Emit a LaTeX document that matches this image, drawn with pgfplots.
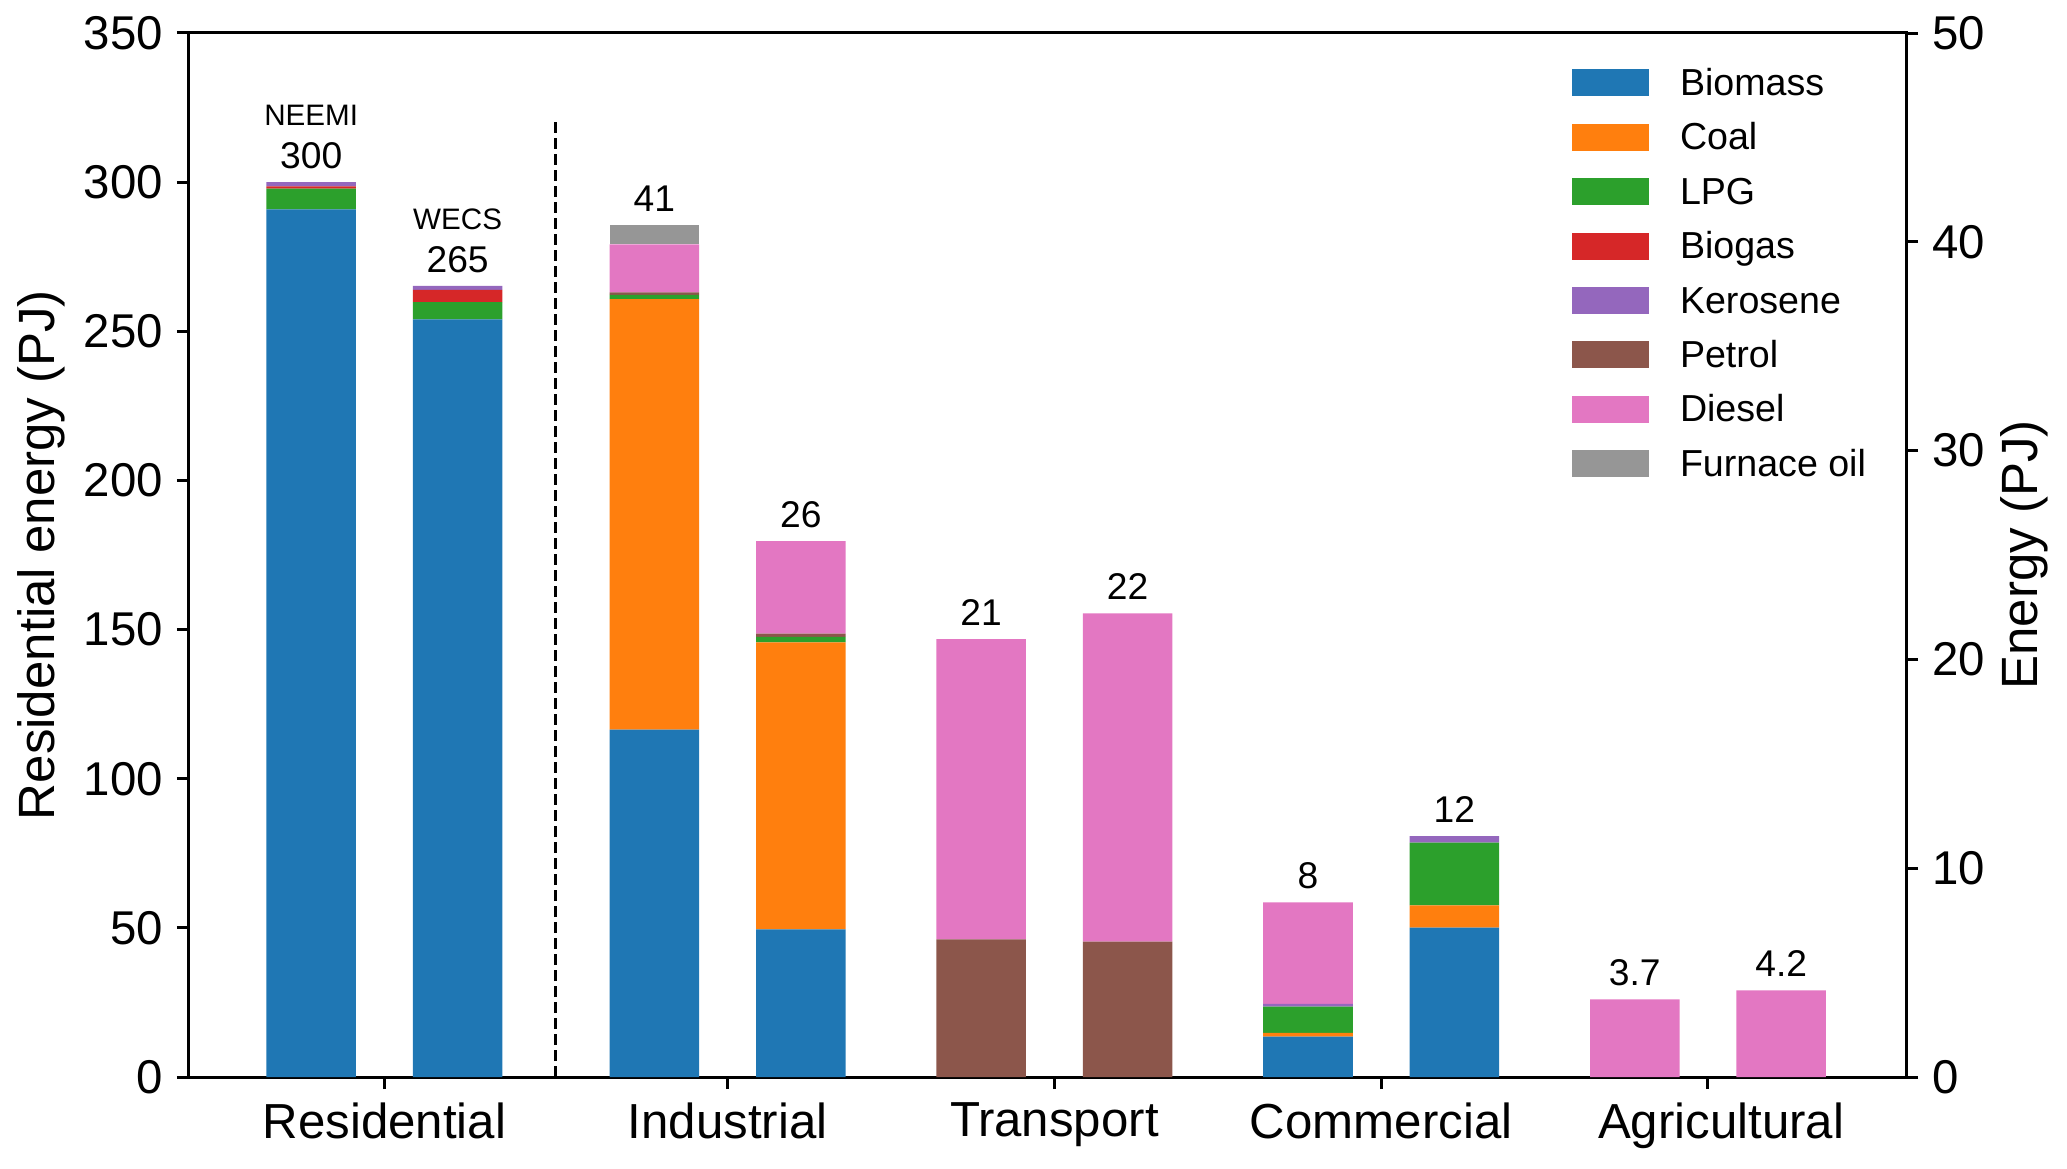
\documentclass[border=0pt]{standalone}
\usepackage{fontspec}
\setmainfont{Liberation Sans}
\usepackage{pgfplots}
\pgfplotsset{compat=1.18}
\definecolor{cBio}{HTML}{1F77B4}
\definecolor{cCoal}{HTML}{FF7F0E}
\definecolor{cLPG}{HTML}{2CA02C}
\definecolor{cBiogas}{HTML}{D62728}
\definecolor{cKero}{HTML}{9467BD}
\definecolor{cPetrol}{HTML}{8C564B}
\definecolor{cDiesel}{HTML}{E377C2}
\definecolor{cFurn}{HTML}{969696}

\pgfplotsset{
  base/.style={
    scale only axis, width=429.25pt, height=261pt,
    at={(0,0)}, anchor=south west,
    xmin=-0.648, xmax=4.606,
    ybar stacked, bar width=0.274,
    ymin=0,
    axis line style={line width=0.75pt},
    tick style={line width=0.75pt, black},
    tick align=outside, major tick length=3pt,
    /pgf/number format/assume math mode=true,
    yticklabel style={font=\fontsize{11.85}{14}\selectfont},
    clip=false,
  },
  legimg/.style={legend image code/.code={\fill[##1] (0pt,-3.375pt) rectangle (19.25pt,3.375pt);}},
  barst/.style={fill=#1, draw=none, bar shift=0pt, legimg},
}

\begin{document}
\begin{tikzpicture}
% ---------- left axis: residential ----------
\begin{axis}[base,
  ymax=350, ytick={0,50,...,350}, ytick pos=left,
  xtick={-0.05,1,2,3,4},
  xticklabels={Residential,Industrial,Transport,Commercial,\hspace*{6.6pt}Agricultural},
  xtick pos=lower,
  xticklabel style={font=\fontsize{12.3}{14}\selectfont},
  ylabel={Residential energy (PJ)},
  every axis y label/.style={at={(rel axis cs:0,0.5)}, xshift=-43pt, rotate=90, anchor=north, inner sep=0pt, font=\fontsize{12.75}{15}\selectfont},
]
\addplot[barst=cBio]    coordinates {(-0.274,290.9) (0.174,254.0)};
\addplot[barst=cCoal]   coordinates {(-0.274,0) (0.174,0)};
\addplot[barst=cLPG]    coordinates {(-0.274,6.9) (0.174,5.8)};
\addplot[barst=cBiogas] coordinates {(-0.274,0.8) (0.174,4.1)};
\addplot[barst=cKero]   coordinates {(-0.274,1.4) (0.174,1.3)};
\draw[line width=0.75pt, dash pattern=on 2.8pt off 1.2pt] (axis cs:0.474,0) -- (axis cs:0.474,320);
\node[anchor=base, inner sep=0pt, yshift=3.4pt, font=\fontsize{9.3}{10}\selectfont] at (axis cs:-0.274,300) {300};
\node[anchor=base, inner sep=0pt, yshift=3.4pt, font=\fontsize{9.3}{10}\selectfont] at (axis cs:0.174,265.2) {265};
\node[anchor=base, inner sep=0pt, yshift=14.2pt, font=\fontsize{7.4}{9}\selectfont] at (axis cs:-0.274,300) {NEEMI};
\node[anchor=base, inner sep=0pt, yshift=14.2pt, font=\fontsize{7.4}{9}\selectfont] at (axis cs:0.174,265.2) {WECS};
\end{axis}
% ---------- right axis: other sectors ----------
\begin{axis}[base,
  ymax=50, ytick={0,10,...,50},
  axis x line=none, axis y line*=right,
  ylabel={Energy (PJ)},
  every axis y label/.style={at={(rel axis cs:1,0.5)}, xshift=35.75pt, rotate=90, anchor=south, inner sep=0pt, font=\fontsize{12.75}{15}\selectfont},
  legend cell align=left,
  legend style={at={(0.805,1)}, anchor=north west, yshift=-8.9pt, draw=none, fill=none, inner sep=0pt,
    row sep=6.85pt, font=\fontsize{9.4}{10}\selectfont,
    nodes={inner sep=0pt, text height=6.5pt, text depth=0.25pt},
    /tikz/every odd column/.append style={column sep=7.75pt}},
]
\addplot[barst=cBio]    coordinates {(0.776,16.64) (1.224,7.07) (1.776,0) (2.224,0) (2.776,1.93) (3.224,7.15) (3.776,0) (4.224,0)};
\addplot[barst=cCoal]   coordinates {(0.776,20.62) (1.224,13.74) (1.776,0) (2.224,0) (2.776,0.18) (3.224,1.07) (3.776,0) (4.224,0)};
\addplot[barst=cLPG]    coordinates {(0.776,0.20) (1.224,0.27) (1.776,0) (2.224,0) (2.776,1.26) (3.224,3.00) (3.776,0) (4.224,0)};
\addplot[barst=cBiogas] coordinates {(0.776,0) (1.224,0) (1.776,0) (2.224,0) (2.776,0) (3.224,0) (3.776,0) (4.224,0)};
\addplot[barst=cKero]   coordinates {(0.776,0) (1.224,0) (1.776,0) (2.224,0) (2.776,0.13) (3.224,0.32) (3.776,0) (4.224,0)};
\addplot[barst=cPetrol] coordinates {(0.776,0.12) (1.224,0.16) (1.776,6.59) (2.224,6.48) (2.776,0) (3.224,0) (3.776,0) (4.224,0)};
\addplot[barst=cDiesel] coordinates {(0.776,2.30) (1.224,4.43) (1.776,14.38) (2.224,15.72) (2.776,4.86) (3.224,0) (3.776,3.72) (4.224,4.15)};
\addplot[barst=cFurn]   coordinates {(0.776,0.94) (1.224,0) (1.776,0) (2.224,0) (2.776,0) (3.224,0) (3.776,0) (4.224,0)};
\legend{Biomass,Coal,LPG,Biogas,Kerosene,Petrol,Diesel,Furnace oil}
\foreach \x/\y/\t in {0.776/40.82/41, 1.224/25.67/26, 1.776/20.97/21, 2.224/22.20/22, 2.776/8.36/8, 3.224/11.54/12, 3.776/3.72/3.7, 4.224/4.15/4.2}{
  \edef\tmp{\noexpand\node[anchor=base, inner sep=0pt, yshift=3.4pt, font=\noexpand\fontsize{9.3}{10}\noexpand\selectfont] at (axis cs:\x,\y) {\t};}
  \tmp
}
\end{axis}
\pgfresetboundingbox
\path[use as bounding box] (-47.25pt,-22.75pt) rectangle (469.5pt,269.25pt);
\end{tikzpicture}
\end{document}
